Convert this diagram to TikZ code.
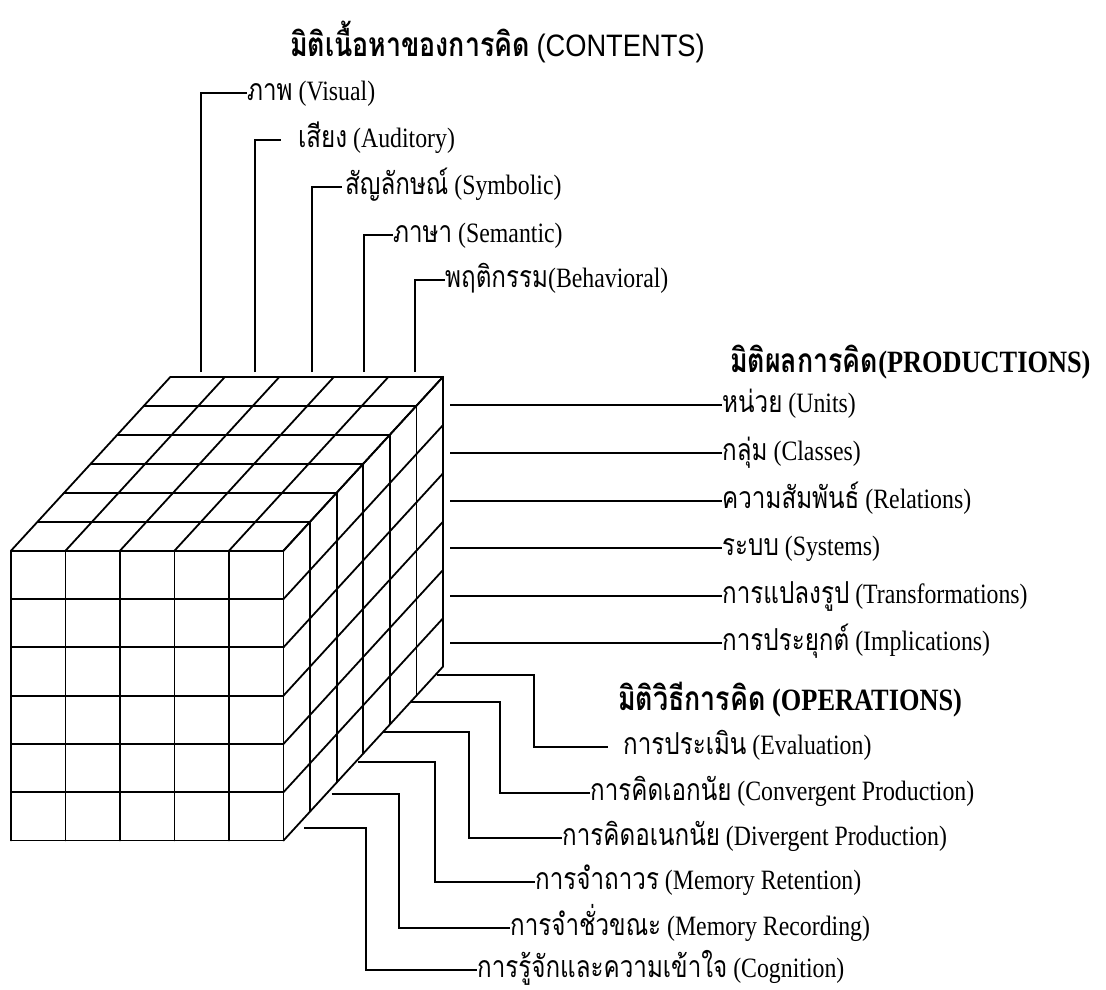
\documentclass[tikz,border=0pt]{standalone}
\usepackage{fontspec}
\setmainfont{Liberation Serif}[FakeStretch=0.85]
\newfontfamily\thaifont[Script=Thai,FakeStretch=0.8,Scale=1.08]{Loma}
\newfontfamily\headsans{Liberation Sans}[FakeStretch=0.88]
\usetikzlibrary{positioning}

\tikzset{
  cube/.style={line width=1.8pt, line cap=round},
  wire/.style={line width=1.8pt},
  lbl/.style={anchor=west, inner sep=0pt, text height=19pt, text depth=5pt,
    font=\fontsize{28}{31}\selectfont},
  ttl/.style={anchor=base west, inner sep=0pt,
    font=\fontsize{31}{34}\selectfont\bfseries}
}

\begin{document}
\begin{tikzpicture}[x=1pt, y=-1pt]
\useasboundingbox (0,0) rectangle (1106,990);

  % Cube 5 x 6 x 6
\def\cw{54.5} \def\ch{48.3} \def\dpx{26.6} \def\dpy{-29}
\foreach \i in {0,...,5} {
  \draw[cube] ({11+\i*\cw},550.7) -- ++(0,{6*\ch});
  \draw[cube] ({11+\i*\cw},550.7) -- ++({6*\dpx},{6*\dpy});
}
\foreach \j in {0,...,6} {
  \draw[cube] (11,{550.7+\j*\ch}) -- ++({5*\cw},0);
  \draw[cube] ({11+5*\cw},{550.7+\j*\ch}) -- ++({6*\dpx},{6*\dpy});
}
\foreach \k in {1,...,6} {
  \draw[cube] ({11+\k*\dpx},{550.7+\k*\dpy}) -- ++({5*\cw},0);
  \draw[cube] ({11+5*\cw+\k*\dpx},{550.7+\k*\dpy}) -- ++(0,{6*\ch});
}

  % Define nodes
\node[ttl] (cont) at (290,57)
  {{\thaifont มิติเนื้อหาของการคิด} {\headsans\mdseries (CONTENTS)}};
\node[lbl] (vis) at (247,93) {{\thaifont ภาพ} (Visual)};
\node[lbl] (aud) at (298,140) {{\thaifont เสียง} (Auditory)};
\node[lbl] (sym) at (345,187) {{\thaifont สัญลักษณ์} (Symbolic)};
\node[lbl] (sem) at (393,235) {{\thaifont ภาษา} (Semantic)};
\node[lbl] (beh) at (445,280) {{\thaifont พฤติกรรม}(Behavioral)};

\node[ttl] (prod) at (730,372) {{\thaifont มิติผลการคิด}(PRODUCTIONS)};
\node[lbl] (uni) at (722,405) {{\thaifont หน่วย} (Units)};
\node[lbl, below=48pt of uni.west, anchor=west] (cla) {{\thaifont กลุ่ม} (Classes)};
\node[lbl, below=48pt of cla.west, anchor=west] (rel) {{\thaifont ความสัมพันธ์} (Relations)};
\node[lbl, below=47pt of rel.west, anchor=west] (sys) {{\thaifont ระบบ} (Systems)};
\node[lbl, below=48pt of sys.west, anchor=west] (tra) {{\thaifont การแปลงรูป} (Transformations)};
\node[lbl, below=47pt of tra.west, anchor=west] (imp) {{\thaifont การประยุกต์} (Implications)};

\node[ttl] (oper) at (618,710) {{\thaifont มิติวิธีการคิด} (OPERATIONS)};
\node[lbl] (eva) at (623,747) {{\thaifont การประเมิน} (Evaluation)};
\node[lbl] (con) at (590,793) {{\thaifont การคิดเอกนัย} (Convergent Production)};
\node[lbl] (div) at (562,838) {{\thaifont การคิดอเนกนัย} (Divergent Production)};
\node[lbl] (ret) at (535,882) {{\thaifont การจำถาวร} (Memory Retention)};
\node[lbl] (rec) at (510,928) {{\thaifont การจำชั่วขณะ} (Memory Recording)};
\node[lbl] (cog) at (477,970) {{\thaifont การรู้จักและความเข้าใจ} (Cognition)};

\coordinate (cv1) at (201,372);
\coordinate (cv2) at (255.3,372);
\coordinate (cv3) at (312.3,372);
\coordinate (cv4) at (364.3,372);
\coordinate (cv5) at (415,372);
\coordinate (pside) at (450,0);
\coordinate (oe) at (436.7,675);
\coordinate (oc) at (410,702);
\coordinate (od) at (383.3,732);
\coordinate (ot) at (358.3,762);
\coordinate (or) at (331.7,794);
\coordinate (og) at (304,828);

  % Connect the nodes
\draw[wire] (cv1) |- (vis.west);
\draw[wire, shorten >=17pt] (cv2) |- (aud.west);
\draw[wire, shorten >=3pt] (cv3) |- (sym.west);
\draw[wire] (cv4) |- (sem.west);
\draw[wire] (cv5) |- (beh.west);

\draw[wire] (pside |- uni.west) -- (uni.west);
\draw[wire] (pside |- cla.west) -- (cla.west);
\draw[wire] (pside |- rel.west) -- (rel.west);
\draw[wire] (pside |- sys.west) -- (sys.west);
\draw[wire] (pside |- tra.west) -- (tra.west);
\draw[wire] (pside |- imp.west) -- (imp.west);

\draw[wire, shorten >=15pt] (oe) -- ++(97.3,0) |- (eva.west);
\draw[wire] (oc) -- ++(90,0) |- (con.west);
\draw[wire] (od) -- ++(86,0) |- (div.west);
\draw[wire] (ot) -- ++(76.7,0) |- (ret.west);
\draw[wire] (or) -- ++(67.6,0) |- (rec.west);
\draw[wire] (og) -- ++(62,0) |- (cog.west);

\end{tikzpicture}
\end{document}
